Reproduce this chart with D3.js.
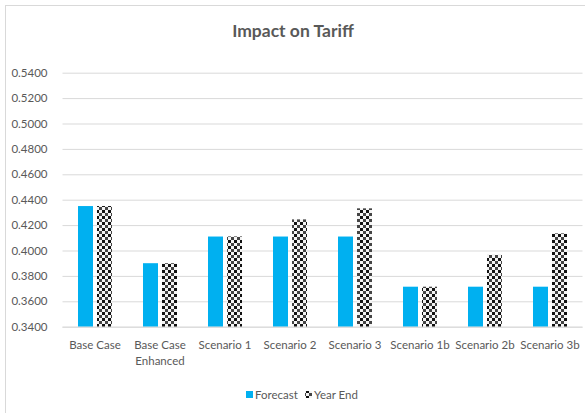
<!DOCTYPE html>
<html>
<head>
<meta charset="utf-8">
<script src="https://cdn.jsdelivr.net/npm/d3@7/dist/d3.min.js"></script>
<style>
html,body{margin:0;padding:0;background:#fff;}
svg{display:block;}
text{font-family:Lato,"Open Sans",sans-serif;}
</style>
</head>
<body>
<svg id="chart" width="585" height="413"></svg>
<script>
const categories = [["Base Case"],["Base Case","Enhanced"],["Scenario 1"],["Scenario 2"],["Scenario 3"],["Scenario 1b"],["Scenario 2b"],["Scenario 3b"]];
const seriesNames = ["Forecast","Year End"];
const forecast = [0.435, 0.390, 0.411, 0.411, 0.411, 0.3715, 0.3715, 0.3715];
const yearEnd  = [0.435, 0.390, 0.411, 0.4245, 0.4332, 0.3715, 0.3965, 0.4135];
const yTicks = [0.34,0.36,0.38,0.40,0.42,0.44,0.46,0.48,0.50,0.52,0.54];
const title = "Impact on Tariff";

const svg = d3.select("#chart");
const plot = {left:62.5, right:582.5, top:72.7, bottom:326.7};

// border
svg.append("rect").attr("x",5.5).attr("y",5.5).attr("width",620).attr("height",430)
  .attr("fill","#fff").attr("stroke","#d9d9d9").attr("stroke-width",1);

// pattern (diagonal checker)
const defs = svg.append("defs");
const pat = defs.append("pattern").attr("id","checker").attr("patternUnits","userSpaceOnUse")
  .attr("width",6).attr("height",6);
pat.append("rect").attr("width",6).attr("height",6).attr("fill","#f4f4f4");
pat.append("rect").attr("x",0).attr("y",0).attr("width",3).attr("height",3).attr("fill","#111");
pat.append("rect").attr("x",3).attr("y",3).attr("width",3).attr("height",3).attr("fill","#444");

const keys = categories.map(c=>c.join(" "));
const x0 = d3.scaleBand().domain(keys).range([plot.left,plot.right]).paddingInner(31/65).paddingOuter(0.2385);
const x1 = d3.scaleBand().domain(seriesNames).range([0,x0.bandwidth()]).paddingInner(4/19).paddingOuter(0);
const y = d3.scaleLinear().domain([0.34,0.54]).range([plot.bottom,plot.top]);

// gridlines + y labels
const yAxis = d3.axisLeft(y).tickValues(yTicks).tickFormat(d3.format(".4f")).tickSize(-(plot.right-plot.left)).tickPadding(15);
const gy = svg.append("g").attr("transform",`translate(${plot.left},0)`).call(yAxis);
gy.select(".domain").remove();
gy.selectAll(".tick line").attr("stroke","#d9d9d9").attr("stroke-width",1);
gy.selectAll(".tick text").attr("fill","#595959").style("font-size","11.5px").style("font-family","Lato, sans-serif");

// title
svg.append("text").attr("x",293).attr("y",37).attr("text-anchor","middle")
  .attr("fill","#595959").style("font-size","17.5px").style("font-weight","bold").text(title);

// bars
const data = keys.map((k,i)=>({key:k, vals:[forecast[i], yearEnd[i]]}));
const fills = ["#00B0F0","url(#checker)"];
const g = svg.append("g");
data.forEach(d=>{
  seriesNames.forEach((s,j)=>{
    g.append("rect")
      .attr("x", x0(d.key)+x1(s))
      .attr("y", y(d.vals[j]))
      .attr("width", x1.bandwidth())
      .attr("height", y(0.34)-y(d.vals[j]))
      .attr("fill", fills[j]);
  });
});

// x axis line
svg.append("line").attr("x1",plot.left).attr("x2",plot.right).attr("y1",plot.bottom+0.5).attr("y2",plot.bottom+0.5)
  .attr("stroke","#d9d9d9").attr("stroke-width",1);

// category labels
const xl = svg.append("g");
categories.forEach((c,i)=>{
  const cx = x0(keys[i]) + x0.bandwidth()/2;
  const t = xl.append("text").attr("x",cx).attr("y",349).attr("text-anchor","middle")
    .attr("fill","#595959").style("font-size","11.5px");
  c.forEach((line,li)=>{
    t.append("tspan").attr("x",cx).attr("dy", li===0?0:16).text(line);
  });
});

// legend
const leg = svg.append("g");
const legItems = [{name:"Forecast", fill:fills[0], x:246},{name:"Year End", fill:fills[1], x:305}];
legItems.forEach(it=>{
  leg.append("rect").attr("x",it.x).attr("y",391).attr("width",7).attr("height",7).attr("fill",it.fill);
  leg.append("text").attr("x",it.x+9).attr("y",399).attr("fill","#595959").style("font-size","11.5px").text(it.name);
});
</script>
</body>
</html>
